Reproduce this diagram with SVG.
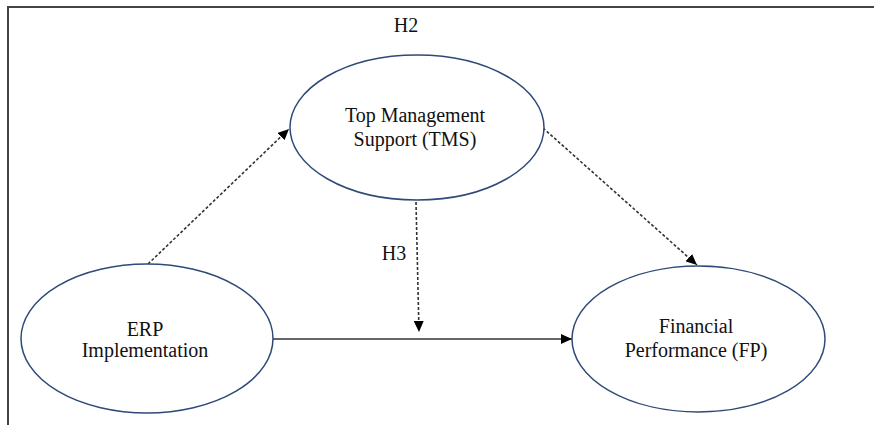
<svg xmlns="http://www.w3.org/2000/svg" width="874" height="425" viewBox="0 0 874 425">
<style>
.node ellipse{fill:#fff;stroke:#2f4a78;stroke-width:1.5}
.lbl{font-size:20px;fill:#111;text-anchor:middle}
.dash{fill:none;stroke:#333;stroke-width:1.6;stroke-dasharray:3 2}
.solid{fill:none;stroke:#333;stroke-width:1.5}
</style>
<defs>
<marker id="ah" markerUnits="userSpaceOnUse" markerWidth="12" markerHeight="10" refX="11" refY="5" orient="auto">
<path d="M0,0 L11,5 L0,10 Z" fill="#000"/>
</marker>
</defs>
<g id="frame">
<polyline points="8,425 8,7 874,7" fill="none" stroke="#444" stroke-width="2"/>
</g>
<g id="connectors">
<line class="dash" x1="148" y1="264" x2="289" y2="129" marker-end="url(#ah)"/>
<line class="dash" x1="543" y1="128" x2="697" y2="265" marker-end="url(#ah)"/>
<line class="dash" x1="416" y1="202" x2="419" y2="332" marker-end="url(#ah)"/>
<line class="solid" x1="273" y1="339" x2="572" y2="339" marker-end="url(#ah)"/>
</g>
<g font-family="'Liberation Serif', 'Times New Roman', 'DejaVu Serif', serif">
<g id="label-h2"><text class="lbl" x="406" y="32">H2</text></g>
<g id="label-h3"><text class="lbl" x="394" y="260">H3</text></g>
<g id="tms" class="node">
<ellipse cx="417" cy="127.5" rx="127" ry="72.5"/>
<text class="lbl" x="415" y="122">Top Management</text>
<text class="lbl" x="415" y="146">Support (TMS)</text>
</g>
<g id="erp" class="node">
<ellipse cx="147" cy="338.5" rx="126" ry="74.5"/>
<text class="lbl" x="145" y="336">ERP</text>
<text class="lbl" x="145" y="357">Implementation</text>
</g>
<g id="fp" class="node">
<ellipse cx="698.5" cy="339" rx="126.5" ry="73"/>
<text class="lbl" x="696" y="333">Financial</text>
<text class="lbl" x="696" y="357">Performance (FP)</text>
</g>
</g>
</svg>
